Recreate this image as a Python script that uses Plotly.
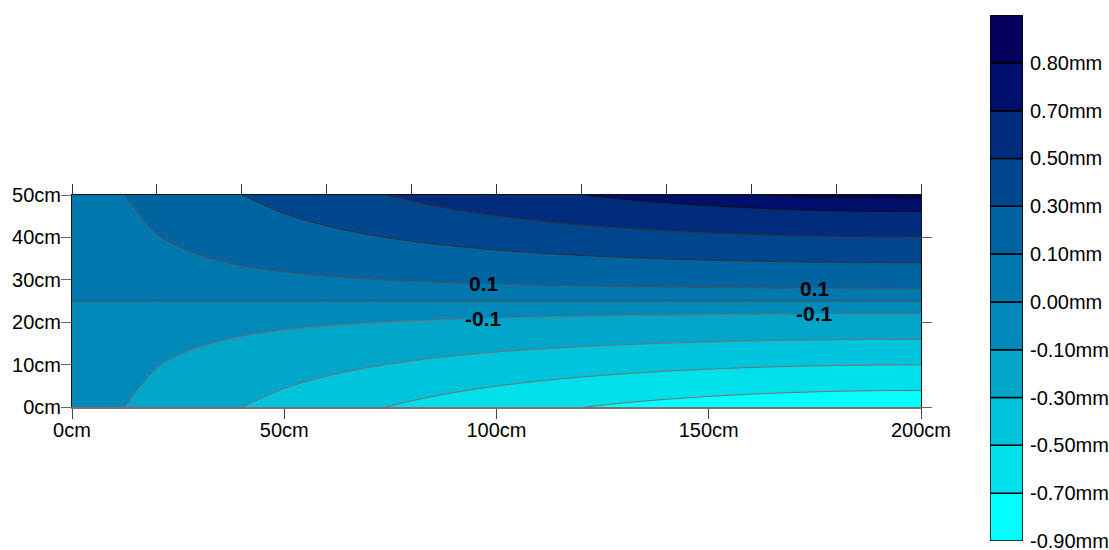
import numpy as np
import plotly.graph_objects as go

# Grid of the displacement field (mm) over the section: x along the length, y through the depth
x_cm = [0, 10, 20, 30, 40, 50, 60, 70, 80, 90, 100, 110, 120, 130, 140, 150, 160, 170, 180, 190, 200]
y_cm = [0, 12.5, 25, 37.5, 50]

u_y0 = [-0.004, -0.081, -0.158, -0.230, -0.299, -0.363, -0.423, -0.479, -0.531, -0.579, -0.623,
        -0.662, -0.697, -0.728, -0.755, -0.778, -0.797, -0.811, -0.822, -0.828, -0.830]
u_y12_5 = [-0.002, -0.041, -0.079, -0.115, -0.150, -0.182, -0.212, -0.240, -0.266, -0.290, -0.312,
           -0.331, -0.349, -0.364, -0.378, -0.389, -0.399, -0.406, -0.411, -0.414, -0.415]
u_y25 = [0.0] * 21
u_y37_5 = [0.002, 0.041, 0.079, 0.115, 0.150, 0.182, 0.212, 0.240, 0.266, 0.290, 0.312,
           0.331, 0.349, 0.364, 0.378, 0.389, 0.399, 0.406, 0.411, 0.414, 0.415]
u_y50 = [0.004, 0.081, 0.158, 0.230, 0.299, 0.363, 0.423, 0.479, 0.531, 0.579, 0.623,
         0.662, 0.697, 0.728, 0.755, 0.778, 0.797, 0.811, 0.822, 0.828, 0.830]

# Contour levels (mm) and the colour of each band, lowest band first
band_edges = [-0.9, -0.7, -0.5, -0.3, -0.1, 0.0, 0.1, 0.3, 0.5, 0.7, 0.8]
band_colors = ["#00ffff", "#00e0ea", "#00c3dc", "#00a6c9", "#0089b8", "#0078ae",
               "#0064a0", "#00468c", "#012b7b", "#000f6b", "#04005e"]
band_labels = [f"{v:.2f}mm" for v in band_edges]

# Labelled contours
label_levels = [0.1, -0.1]
label_x = [97.0, 175.0]

x_ticks = [0, 50, 100, 150, 200]
y_ticks = [0, 10, 20, 30, 40, 50]

z = [u_y0, u_y12_5, u_y25, u_y37_5, u_y50]


def band_color(v):
    b = int(np.clip(np.searchsorted(band_edges, v) - 1, 0, len(band_colors) - 1))
    return band_colors[b]


# Fill: contours every 0.1 mm, coloured so that sub-bands merge into the level bands
f_start, f_end, f_size = -0.9, 0.8, 0.1
n_lv = int(round((f_end - f_start) / f_size)) + 1
colorscale = []
for k in range(n_lv + 1):
    centre = f_start - f_size / 2 + k * f_size
    col = band_color(centre)
    colorscale.append([max(0.0, (k - 0.5) / n_lv), col])
    colorscale.append([min(1.0, (k + 0.5) / n_lv), col])

fig = go.Figure()
fig.add_trace(go.Contour(
    x=x_cm, y=y_cm, z=z, autocontour=False,
    contours=dict(start=f_start, end=f_end, size=f_size, coloring="fill", showlines=False),
    colorscale=colorscale, showscale=False, line=dict(width=0, smoothing=1),
    hoverinfo="skip",
))

# Contour lines drawn at the level values
line_groups = [
    (-0.9, -0.1, 0.2, "#747070"),
    (0.0, 0.1, 0.1, "#505050"),
    (0.3, 0.5, 0.2, "#333333"),
    (0.7, 0.8, 0.1, "#111111"),
]
for start, end, size, col in line_groups:
    fig.add_trace(go.Contour(
        x=x_cm, y=y_cm, z=z, autocontour=False,
        contours=dict(start=start, end=end, size=size, coloring="none", showlines=True),
        line=dict(color=col, width=1, smoothing=1), showscale=False, hoverinfo="skip",
    ))

# Carrier for the top / right tick axes
fig.add_trace(go.Scatter(x=[None], y=[None], xaxis="x2", yaxis="y2",
                         showlegend=False, hoverinfo="skip"))

# Level legend bar
fig.add_trace(go.Bar(
    x=[0] * len(band_colors), y=[1] * len(band_colors), base=list(range(len(band_colors))),
    width=1, marker=dict(color=band_colors, line=dict(color="black", width=1.5)),
    xaxis="x3", yaxis="y3", showlegend=False, hoverinfo="skip",
))

# Inline labels on the +/-0.1 contours; the contour line is masked behind each label
annotations = []
shapes = []
for lx in label_x:
    col = [np.interp(lx, x_cm, row) for row in z]
    for lv in label_levels:
        ly = float(np.interp(lv, col, y_cm))
        txt = f"{lv:g}"
        half_w = 4.5 if lv > 0 else 5.1
        shapes.append(dict(type="rect", xref="x", yref="y", x0=lx - half_w, x1=lx + half_w,
                           y0=ly, y1=ly + 1.6, fillcolor=band_color(lv + 0.01),
                           line=dict(width=0), layer="above"))
        shapes.append(dict(type="rect", xref="x", yref="y", x0=lx - half_w, x1=lx + half_w,
                           y0=ly - 1.6, y1=ly, fillcolor=band_color(lv - 0.01),
                           line=dict(width=0), layer="above"))
        annotations.append(dict(
            x=lx, y=ly, xref="x", yref="y", text=f"<b>{txt}</b>", showarrow=False,
            font=dict(family="Liberation Sans, Arial, sans-serif", size=21, color="black"),
        ))

W, H = 1109, 550
px_x0, px_x1 = 72, 921
px_y0, px_y1 = 195, 407
font = dict(family="Liberation Sans, Arial, sans-serif", size=20, color="black")
common = dict(showgrid=False, zeroline=False, automargin=False, fixedrange=True)

fig.update_layout(
    width=W, height=H, margin=dict(l=0, r=0, t=0, b=0, autoexpand=False),
    paper_bgcolor="white", plot_bgcolor="white", showlegend=False, font=font,
    annotations=annotations, shapes=shapes,
    xaxis=dict(domain=[px_x0 / W, px_x1 / W], range=[0, 200], tickmode="array",
               tickvals=x_ticks, ticktext=[f"{v}cm" for v in x_ticks],
               ticks="outside", ticklen=10, tickcolor="#444", ticklabelstandoff=-6,
               showline=True, linecolor="rgba(0,0,0,0.55)", linewidth=2, anchor="y", **common),
    yaxis=dict(domain=[1 - px_y1 / H, 1 - px_y0 / H], range=[0, 50], tickmode="array",
               tickvals=y_ticks, ticktext=[f"{v}cm" for v in y_ticks],
               ticks="outside", ticklen=10, tickcolor="#666", ticklabelstandoff=-4,
               showline=True, linecolor="#111", linewidth=1, anchor="x", **common),
    xaxis2=dict(overlaying="x", side="top", range=[0, 200], tick0=0, dtick=20,
                ticks="outside", ticklen=10, tickcolor="#333", showticklabels=False,
                showline=True, linecolor="#111", linewidth=1, anchor="y2", **common),
    yaxis2=dict(overlaying="y", side="right", range=[0, 50], tick0=0, dtick=20,
                ticks="outside", ticklen=10, tickcolor="#666", showticklabels=False,
                showline=True, linecolor="#111", linewidth=1, anchor="x2", **common),
    xaxis3=dict(domain=[990 / W, 1023 / W], range=[-0.5, 0.5], visible=False, anchor="y3",
                **common),
    yaxis3=dict(domain=[9 / H, 535 / H], range=[0, len(band_colors)], side="right", anchor="x3",
                tickvals=list(range(len(band_labels))), ticktext=band_labels, ticks="",
                ticklabelstandoff=6, ticklabeloverflow="allow", showline=False, **common),
)

fig.write_html("out.html")
